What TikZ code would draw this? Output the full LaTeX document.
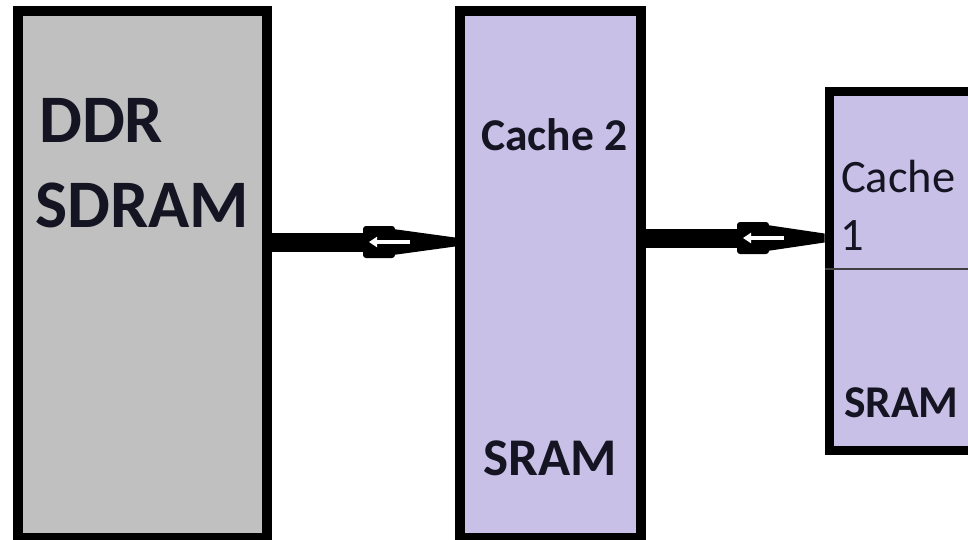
\documentclass[tikz,border=0pt]{standalone}
\usepackage{fontspec}
\setmainfont{Carlito}
\usepackage{xcolor}
\usepackage{tikz}
\usetikzlibrary{calc}
\usetikzlibrary{arrows.meta}
\definecolor{ramgray}{RGB}{192,192,192}
\definecolor{cachefill}{RGB}{200,192,230}
\definecolor{labeltext}{RGB}{20,20,35}
% thick bus link with a small white arrow, from #1 to #2
\newcommand{\busarrow}[2]{%
    \draw[line width=19pt] (#1) -- ($(#1)+(93,0)$);
    \fill[rounded corners=3pt] ($(#1)+(91,-16)$) rectangle ($(#1)+(123,16)$);
    \fill ($(#1)+(121,-13)$) -- ($(#2)+(0,-4.5)$) -- ($(#2)+(0,4.5)$) -- ($(#1)+(121,13)$) -- cycle;
    \draw[white, line width=3.5pt, -{Triangle[length=8pt,width=10pt]}] ($(#1)+(138,0)$) -- ($(#1)+(97,0)$);
}

\begin{document}
\begin{tikzpicture}[x=1pt, y=-1pt,
        membox/.style={draw=black, line width=10pt, inner sep=0pt},
        txt/.style={text=labeltext, inner sep=0pt, anchor=base west}]
        \useasboundingbox (0,0) rectangle (968,539);
        \clip (0,0) rectangle (968,539);

        \node[membox, fill=ramgray, minimum width=249.5pt, minimum height=527pt] (DDR) at (142.25,274.5) {};
        \node[membox, fill=cachefill, minimum width=181pt, minimum height=527pt] (C2) at (550.5,274.5) {};
        \node[membox, line width=9pt, fill=cachefill, minimum width=161pt, minimum height=359pt] (C1) at (909.5,271) {};

        % split of cache 1
        \draw[line width=1.5pt, black!75] (C1.west |- 0,269) -- (C1.east |- 0,269);

        % labels
        \node[txt, font=\bfseries\fontsize{68}{72}\selectfont] (ddr) at (39,142) {DDR};
        \node[txt, font=\bfseries\fontsize{68}{72}\selectfont] (sdram) at (35,227) {SDRAM};
        \node[txt, font=\bfseries\fontsize{45.5}{50}\selectfont] (c2name) at (481,150) {Cache 2};
        \node[txt, font=\bfseries\fontsize{53}{56}\selectfont] (c2sram) at (483,475) {SRAM};
        \node[txt, font=\fontsize{46.5}{50}\selectfont] (c1name) at (841,192) {Cache};
        \node[txt, font=\fontsize{46.5}{50}\selectfont] (c1num) at (840,250) {1};
        \node[txt, font=\bfseries\fontsize{45.5}{50}\selectfont] (c1sram) at (844,417) {SRAM};

        % links between the memories
        \busarrow{DDR.east |- 0,242}{C2.west |- 0,242}
        \busarrow{C2.east |- 0,238}{C1.west |- 0,238}
\end{tikzpicture}
\end{document}
